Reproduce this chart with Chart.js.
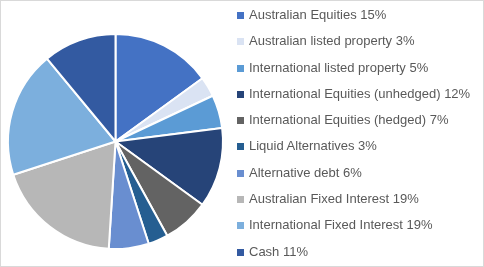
<!DOCTYPE html>
<html>
<head>
<meta charset="utf-8">
<script src="https://cdn.jsdelivr.net/npm/chart.js@4"></script>
<style>
  body { margin: 0; }
  .wrap { position: relative; width: 484px; height: 267px; border: 1px solid #d9d9d9; box-sizing: border-box; background: #fff; }
  canvas { position: absolute; left: -1px; top: -1px; }
  .legend { position: absolute; left: 236px; top: 1px; font: 13px "Liberation Sans", Arial, sans-serif; color: #595959; }
  .legend div { height: 26.3px; line-height: 26.3px; white-space: nowrap; }
  .legend span { display: inline-block; width: 7px; height: 7px; margin-right: 5px; vertical-align: 0px; }
</style>
</head>
<body>
<div class="wrap">
  <canvas id="chartbox" width="484" height="267"></canvas>
  <div class="legend" id="legend"></div>
</div>
<script>
// data
const labels = [
  'Australian Equities 15%',
  'Australian listed property 3%',
  'International listed property 5%',
  'International Equities (unhedged) 12%',
  'International Equities (hedged) 7%',
  'Liquid Alternatives 3%',
  'Alternative debt 6%',
  'Australian Fixed Interest 19%',
  'International Fixed Interest 19%',
  'Cash 11%'
]
const values = [15, 3, 5, 12, 7, 3, 6, 19, 19, 11]
const colors = ['#4472C4', '#DAE3F3', '#5B9BD5', '#264478', '#636363', '#255E91', '#698ED0', '#B7B7B7', '#7CAFDD', '#335AA1']

const chart = new Chart(document.querySelector('#chartbox'), {
  type: 'pie',
  data: {
    labels,
    datasets: [{
      data: values,
      backgroundColor: colors,
      borderColor: '#fff',
      borderWidth: 2
    }]
  },
  options: {
    responsive: false,
    animation: false,
    layout: { padding: { left: 7, right: 260, top: 33, bottom: 17 } },
    plugins: {
      legend: { display: false },
      tooltip: { enabled: false }
    }
  }
})

// html legend built from the chart's own labels
const items = chart.options.plugins.legend.labels.generateLabels(chart)
document.querySelector('#legend').innerHTML = items.map(it =>
  `<div><span style="background:${it.fillStyle}"></span>${it.text}</div>`
).join('')
</script>
</body>
</html>
